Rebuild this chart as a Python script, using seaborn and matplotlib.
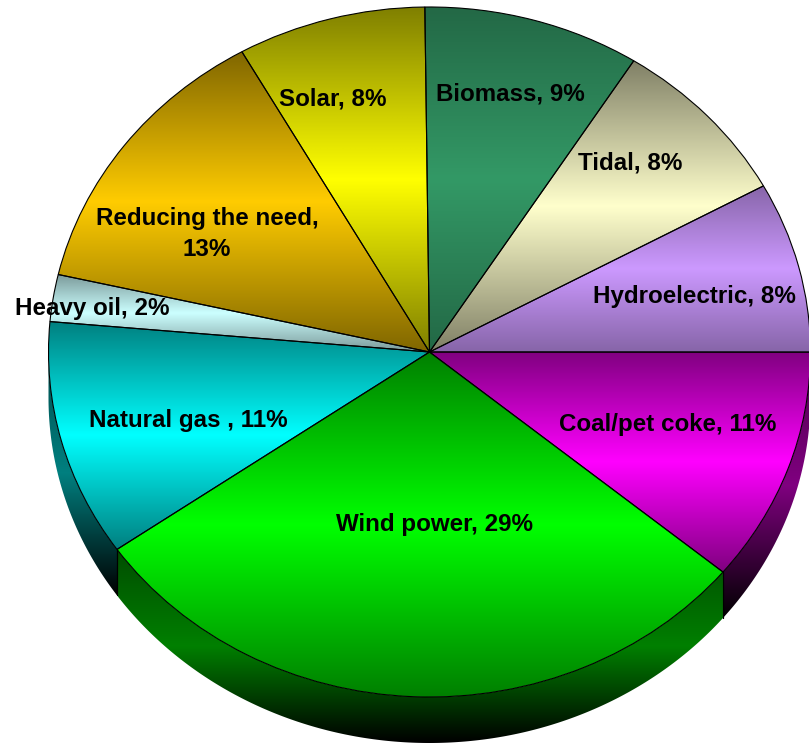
import numpy as np
import matplotlib
matplotlib.use('Agg')
import matplotlib.pyplot as plt
from matplotlib.patches import Polygon
from matplotlib.colors import to_rgb
import seaborn as sns

# slice sizes as drawn in the picture (the printed percentages are rounded)
sources = ['Biomass', 'Tidal', 'Hydroelectric', 'Coal/pet coke', 'Wind power',
           'Natural gas', 'Heavy oil', 'Reducing the need', 'Solar']
sizes = [9.2, 8.0, 8.0, 11.0, 29.3, 11.1, 2.2, 13.2, 8.0]
labels = ['Biomass, 9%', 'Tidal, 8%', 'Hydroelectric, 8%', 'Coal/pet coke, 11%', 'Wind power, 29%',
          'Natural gas , 11%', 'Heavy oil, 2%', 'Reducing the need,\n13%', 'Solar, 8%']
colors = ['#339966', '#FFFFCC', '#CC99FF', '#FF00FF', '#00FF00',
          '#00FFFF', '#CCFFFF', '#FFCC00', '#FFFF00']
edge_shade = [0.68, 0.5, 0.66, 0.5, 0.5, 0.5, 0.6, 0.5, 0.5]

# label centres, in image pixels
label_x = [510, 630, 694, 668, 434, 188, 92, 207, 333]
label_y = [94, 163, 296, 424, 525, 420, 308, 234, 99]

W, H = 809, 744
CX, CY, RX, RY, DEPTH = 429.5, 352, 381, 345, 46
START = 90.7


def to_x(px):
    return (px - CX) / RX


def to_y(py):
    return (CY - py) / RY


def shade(color, f):
    return tuple(c * f for c in to_rgb(color))


def gradient(ax, stops, bbox, clip):
    cmap = sns.blend_palette(stops, as_cmap=True)
    im = ax.imshow(np.linspace(0, 1, 256)[:, None], cmap=cmap, aspect='auto', origin='upper',
                   extent=(bbox.x0, bbox.x1, bbox.y0, bbox.y1), interpolation='bilinear', zorder=1)
    im.set_clip_path(clip)


sns.set_theme(style='white')
plt.rcParams['font.family'] = ['Liberation Sans', 'DejaVu Sans']

fig = plt.figure(figsize=(W / 100, H / 100), dpi=100)
ax = fig.add_axes([0, 0, 1, 1])

# rim below the pie, one piece per visible slice
edges = (90 - START) + np.concatenate([[0], np.cumsum(sizes)]) * 3.6
dy = DEPTH / RY
for i, color in enumerate(colors):
    a0, a1 = max(edges[i], 90), min(edges[i + 1], 270)
    if a1 <= a0:
        continue
    t = np.radians(np.linspace(a0, a1, 200))
    xs, ys = np.sin(t), np.cos(t)
    pts = np.column_stack([np.r_[xs, xs[::-1]], np.r_[ys, ys[::-1] - dy]])
    rim = Polygon(pts, closed=True, facecolor='none', edgecolor='none', zorder=1)
    ax.add_patch(rim)
    gradient(ax, [shade(color, 0.3), shade(color, 0.5), (0, 0, 0)], rim.get_path().get_extents(), rim)
    for a in (a0, a1):
        if 90 < a < 270:
            ax.plot([np.sin(np.radians(a))] * 2, [np.cos(np.radians(a)), np.cos(np.radians(a)) - dy],
                    color='black', lw=0.8, zorder=2)

wedges, _ = ax.pie(sizes, colors=colors, startangle=START, counterclock=False, radius=1,
                   wedgeprops={'edgecolor': 'black', 'linewidth': 0.8, 'zorder': 3})
for wedge, color, f in zip(wedges, colors, edge_shade):
    wedge.set_facecolor('none')
    box = wedge.get_patch_transform().transform_path(wedge.get_path()).get_extents()
    gradient(ax, [shade(color, f), color, shade(color, f)], box, wedge)

for text, px, py in zip(labels, label_x, label_y):
    ax.text(to_x(px), to_y(py), text, ha='center', va='center', fontsize=17.4, fontweight='bold',
            color='black', linespacing=1.4, zorder=5)

ax.set_aspect('auto')
ax.set_xlim(to_x(0), to_x(W))
ax.set_ylim(to_y(H), to_y(0))
ax.axis('off')

fig.savefig('out.png', dpi=100, facecolor='white')
